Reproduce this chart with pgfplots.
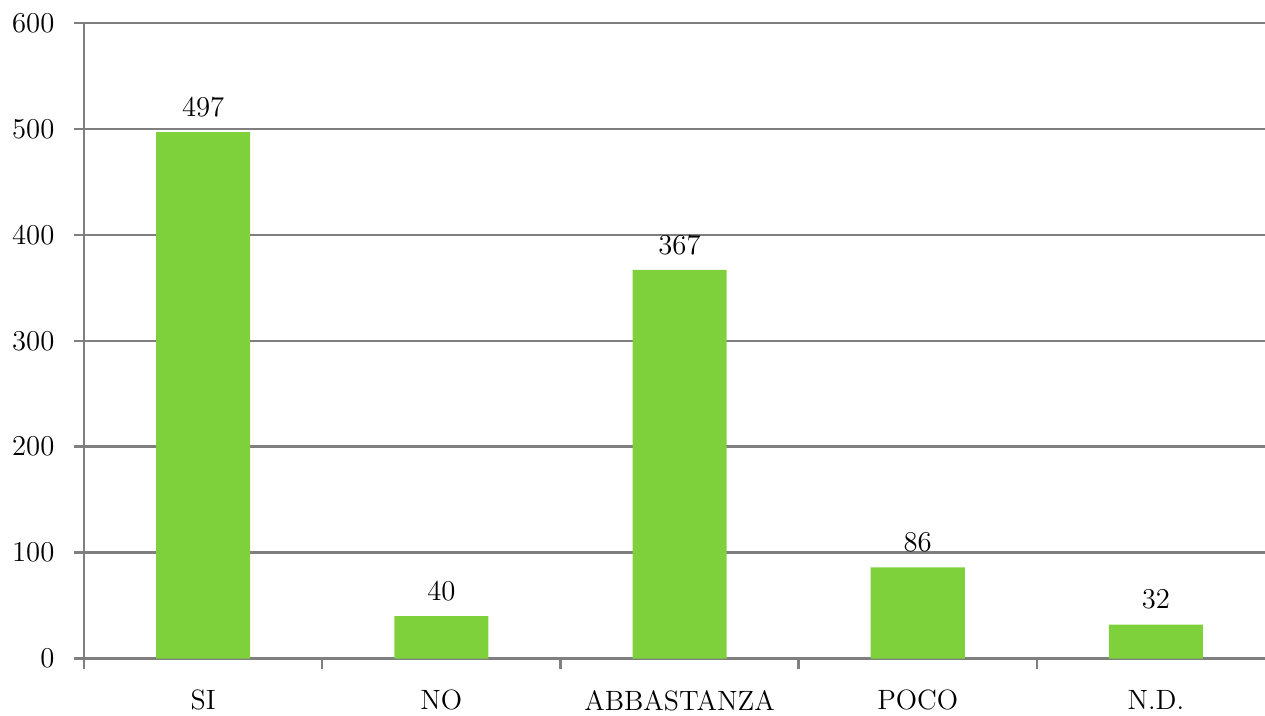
\documentclass[border=0pt]{standalone}
\usepackage{pgfplots}
\pgfplotsset{compat=1.18}
\definecolor{bargreen}{HTML}{7FD13B}
\definecolor{axgray}{HTML}{7F7F7F}
\begin{document}
\fontsize{14}{16}\selectfont
\begin{tikzpicture}
\begin{axis}[
  scale only axis,
  width=595bp, height=317.5bp,
  xmin=-0.5, xmax=4.5,
  ymin=0, ymax=600,
  ytick={0,100,...,600},
  xtick={0,1,2,3,4},
  xticklabels={SI,NO,ABBASTANZA,POCO,N.D.},
  minor xtick={-0.5,0.5,1.5,2.5,3.5,4.5},
  major x tick style={draw=none},
  minor tick length=5bp,
  major tick length=5bp,
  tick align=outside,
  axis x line*=bottom,
  axis y line*=left,
  axis line style={axgray, line width=1.4bp, -},
  y tick style={axgray, line width=1.2bp},
  x tick style={axgray, line width=1.2bp},
  ymajorgrids,
  grid style={axgray, line width=1.2bp},
  tick label style={font=\fontsize{14}{16}\selectfont},
  yticklabel style={xshift=-5bp},
  xticklabel style={yshift=-6bp},
  every node near coord/.append style={font=\fontsize{14}{16}\selectfont, yshift=3bp},
  nodes near coords,
  clip=false,
]
\addplot[ybar, bar width=47bp, fill=bargreen, draw=none] coordinates {
  (0,497) (1,40) (2,367) (3,86) (4,32)
};
\end{axis}
\pgfresetboundingbox
\path ([xshift=-42bp,yshift=-28.5bp]current axis.south west) rectangle ([xshift=-5bp,yshift=11.5bp]current axis.north east);
\end{tikzpicture}
\end{document}
